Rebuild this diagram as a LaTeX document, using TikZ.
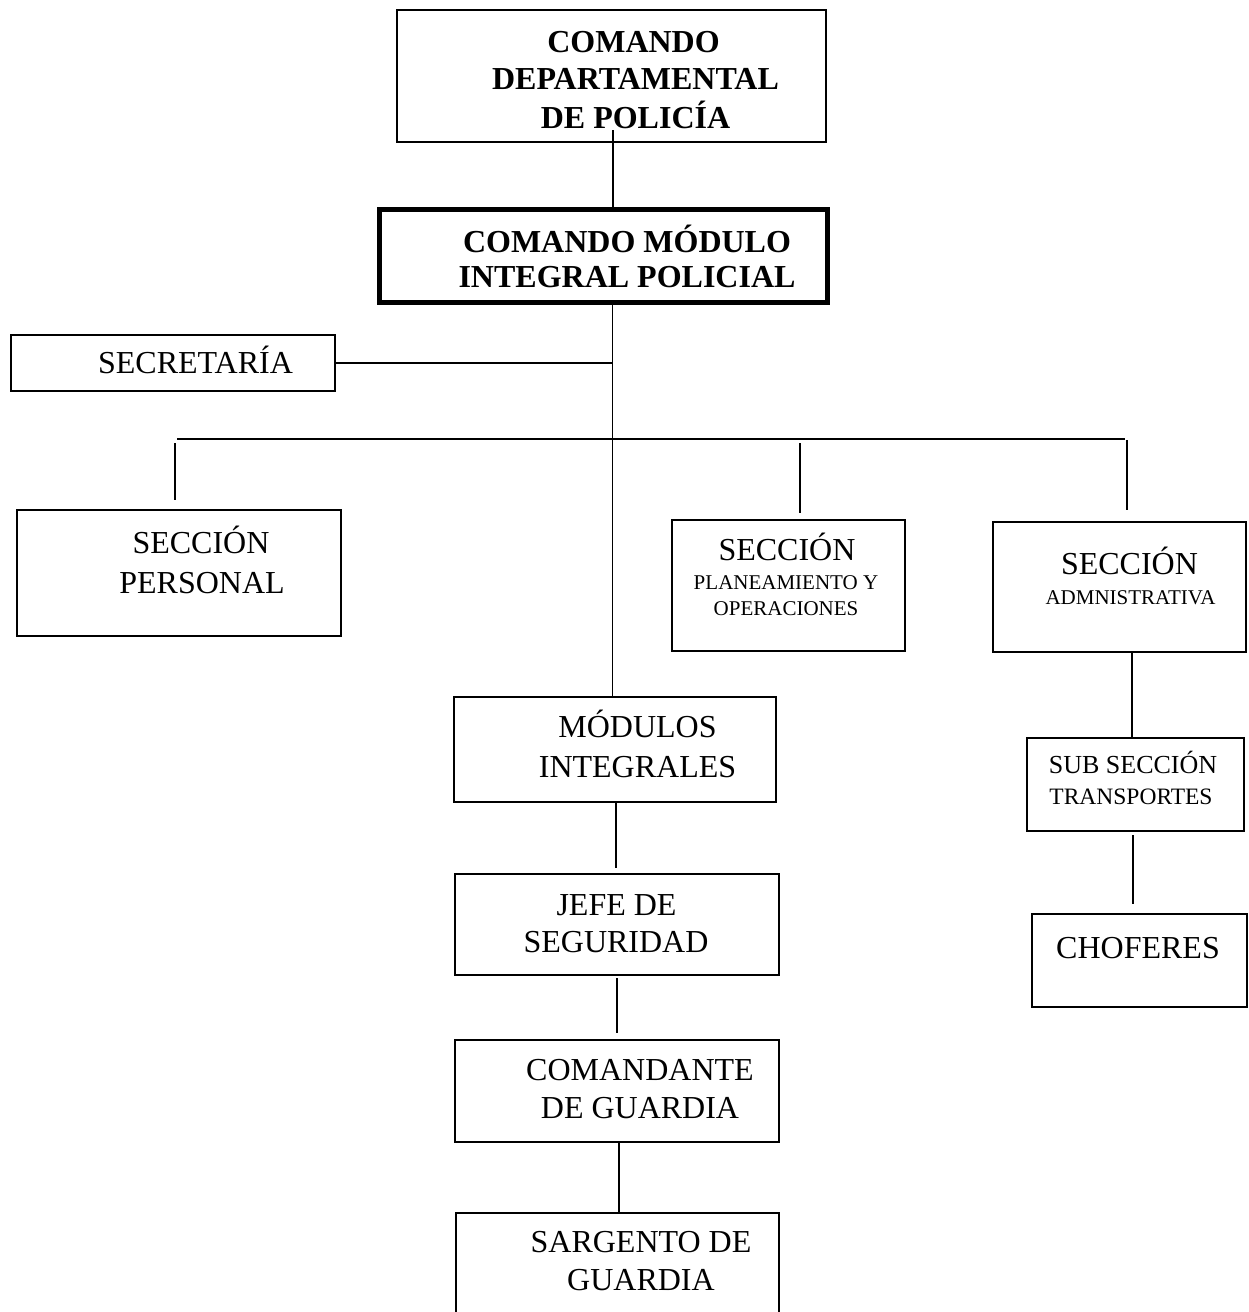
\documentclass[tikz,border=0pt]{standalone}
\usepackage{fontspec}
\setmainfont{Liberation Serif}
\begin{document}
\begin{tikzpicture}[x=1pt,y=-1pt,
  box/.style={draw, line width=2pt, rectangle, inner sep=0pt},
  thickbox/.style={box, line width=5pt},
  conn/.style={draw, line width=1.4pt},
  tx/.style={anchor=base, inner sep=0pt, font=\fontsize{32}{38}\selectfont},
  txb/.style={anchor=base, inner sep=0pt, font=\fontsize{32}{38}\selectfont\bfseries},
  txs/.style={anchor=base, inner sep=0pt, font=\fontsize{21}{25}\selectfont},
  txm/.style={anchor=base, inner sep=0pt, font=\fontsize{26}{30}\selectfont},
  txn/.style={anchor=base, inner sep=0pt, font=\fontsize{23.5}{28}\selectfont}]
\useasboundingbox (0,0) rectangle (1249,1312);
\clip (0,0) rectangle (1249,1312);
\fill[white] (0,0) rectangle (1249,1312);

% boxes
\node[box, minimum width=429pt, minimum height=132pt] (b1) at (611.5,76) {};
\node[thickbox, minimum width=448pt, minimum height=93pt] (b2) at (603.5,256) {};
\node[box, minimum width=324pt, minimum height=56pt] (b3) at (173,363) {};
\node[box, minimum width=324pt, minimum height=126pt] (b4) at (179,573) {};
\node[box, minimum width=233pt, minimum height=131pt] (b5) at (788.5,585.5) {};
\node[box, minimum width=253pt, minimum height=130pt] (b6) at (1119.5,587) {};
\node[box, minimum width=322pt, minimum height=105pt] (b7) at (615,749.5) {};
\node[box, minimum width=324pt, minimum height=101pt] (b8) at (617,924.5) {};
\node[box, minimum width=324pt, minimum height=102pt] (b9) at (617,1091) {};
\node[box, minimum width=323pt, minimum height=110pt] (b10) at (617.5,1268) {};
\node[box, minimum width=217pt, minimum height=93pt] (b11) at (1135.5,784.5) {};
\node[box, minimum width=215pt, minimum height=93pt] (b12) at (1139.5,960.5) {};

% texts
\node[txb] (t1a) at (633.5,52) {COMANDO};
\node[txb] (t1b) at (635.5,89) {DEPARTAMENTAL};
\node[txb] (t1c) at (635.5,128) {DE POLICÍA};
\node[txb] (t2a) at (627,252) {COMANDO MÓDULO};
\node[txb] (t2b) at (627,287) {INTEGRAL POLICIAL};
\node[tx] (t3) at (195.5,373) {SECRETARÍA};
\node[tx] (t4a) at (201,553) {SECCIÓN};
\node[tx] (t4b) at (202,593) {PERSONAL};
\node[tx] (t5a) at (787,560) {SECCIÓN};
\node[txs] (t5b) at (786,589) {PLANEAMIENTO Y};
\node[txs] (t5c) at (786,615) {OPERACIONES};
\node[tx] (t6a) at (1129.5,574) {SECCIÓN};
\node[txs] (t6b) at (1130.5,604) {ADMNISTRATIVA};
\node[tx] (t7a) at (637.5,737) {MÓDULOS};
\node[tx] (t7b) at (637.5,777) {INTEGRALES};
\node[tx] (t8a) at (616.5,915) {JEFE DE};
\node[tx] (t8b) at (616,952) {SEGURIDAD};
\node[tx] (t9a) at (640,1080) {COMANDANTE};
\node[tx] (t9b) at (640,1118) {DE GUARDIA};
\node[tx] (t10a) at (641,1252) {SARGENTO DE};
\node[tx] (t10b) at (641,1290) {GUARDIA};
\node[txm] (t11a) at (1133,773) {SUB SECCIÓN};
\node[txn] (t11b) at (1131,804) {TRANSPORTES};
\node[tx] (t12) at (1138,958) {CHOFERES};

% connector coordinates
\coordinate (c1) at (613,130);
\coordinate (tk) at (612.5,0);
\coordinate (busL) at (177,439);
\coordinate (busR) at (1125,439);
\coordinate (d1a) at (175,443);
\coordinate (d1b) at (175,500);
\coordinate (d2a) at (800,443);
\coordinate (d2b) at (800,513);
\coordinate (d3a) at (1127,440);
\coordinate (d3b) at (1127,510);
\coordinate (e1) at (1132,0);
\coordinate (e2a) at (1133,835);
\coordinate (e2b) at (1133,904);
\coordinate (m1) at (616,0);
\coordinate (m1b) at (616,868);
\coordinate (m2a) at (617,978);
\coordinate (m2b) at (617,1033);
\coordinate (m3) at (619,0);

% connectors
\draw[conn] (c1) -- (c1 |- b2.north);
\draw[conn] (tk |- b2.south) -- (tk |- b7.north);
\draw[conn] (b3.east) -- (b3.east -| tk);
\draw[conn] (busL) -- (busR);
\draw[conn] (d1a) -- (d1b);
\draw[conn] (d2a) -- (d2b);
\draw[conn] (d3a) -- (d3b);
\draw[conn] (e1 |- b6.south) -- (e1 |- b11.north);
\draw[conn] (e2a) -- (e2b);
\draw[conn] (m1 |- b7.south) -- (m1b);
\draw[conn] (m2a) -- (m2b);
\draw[conn] (m3 |- b9.south) -- (m3 |- b10.north);
\end{tikzpicture}
\end{document}
